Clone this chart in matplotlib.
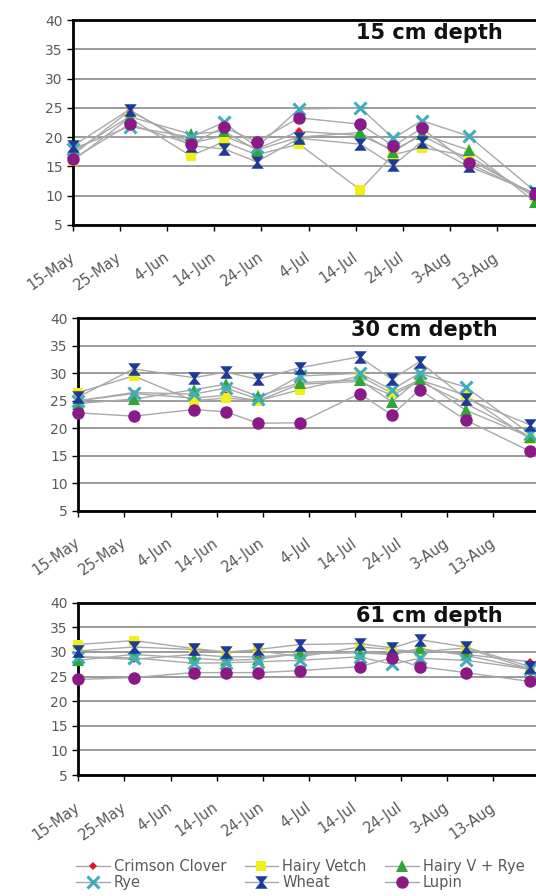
import matplotlib
matplotlib.use('Agg')
import matplotlib.pyplot as plt
from matplotlib.path import Path
from matplotlib.transforms import ScaledTranslation
import numpy as np

plt.rcParams['font.family'] = ['DejaVu Sans']

# ---------------- data ----------------
dates = np.array(['2008-05-15', '2008-05-27', '2008-06-09', '2008-06-16', '2008-06-23',
                  '2008-07-02', '2008-07-15', '2008-07-22', '2008-07-28', '2008-08-07',
                  '2008-08-21'], dtype='datetime64[D]')

tick_dates = np.array(['2008-05-15', '2008-05-25', '2008-06-04', '2008-06-14', '2008-06-24',
                       '2008-07-04', '2008-07-14', '2008-07-24', '2008-08-03', '2008-08-13'],
                      dtype='datetime64[D]')
tick_labels = ['15-May', '25-May', '4-Jun', '14-Jun', '24-Jun', '4-Jul', '14-Jul',
               '24-Jul', '3-Aug', '13-Aug']

series_names = ['Crimson Clover', 'Hairy Vetch', 'Hairy V + Rye', 'Rye', 'Wheat', 'Lupin']
panel_titles = ['15 cm depth', '30 cm depth', '61 cm depth']

# 15 cm depth
d15_crimson = [17.0, 24.5, 19.0, 20.2, 18.0, 21.0, 20.3, 17.8, 20.3, 16.2, 10.2]
d15_vetch   = [16.0, 23.3, 16.8, 19.2, 17.0, 18.8, 11.0, 17.0, 18.2, 16.8, 9.8]
d15_vrye    = [17.5, 23.5, 20.5, 21.0, 17.8, 20.0, 20.8, 17.5, 20.5, 17.8, 9.0]
d15_rye     = [18.0, 21.8, 20.0, 22.5, 18.3, 24.8, 25.0, 19.8, 22.8, 20.2, 10.8]
d15_wheat   = [18.5, 24.7, 18.5, 18.0, 15.8, 19.8, 18.8, 15.2, 19.2, 15.0, 10.5]
d15_lupin   = [16.3, 22.2, 18.8, 21.7, 19.2, 23.3, 22.2, 18.5, 21.5, 15.5, 10.3]

# 30 cm depth
d30_crimson = [25.0, 26.3, 25.5, 26.0, 25.0, 28.0, 28.5, 26.0, 28.5, 24.5, 18.5]
d30_vetch   = [26.5, 29.5, 25.0, 25.5, 25.0, 27.0, 29.5, 26.4, 28.8, 26.0, 18.0]
d30_vrye    = [24.5, 25.3, 27.0, 28.0, 25.8, 28.3, 28.8, 24.8, 29.0, 23.3, 18.4]
d30_rye     = [25.0, 26.5, 26.2, 27.3, 25.3, 29.5, 30.0, 27.0, 30.0, 27.5, 19.0]
d30_wheat   = [25.7, 30.8, 29.2, 30.2, 28.9, 31.0, 33.0, 28.9, 32.1, 25.4, 20.6]
d30_lupin   = [22.8, 22.2, 23.4, 23.0, 20.9, 21.0, 26.3, 22.4, 27.0, 21.5, 15.8]

# 61 cm depth
d61_crimson = [29.0, 28.5, 29.5, 29.0, 29.0, 29.5, 30.0, 29.5, 30.5, 29.5, 28.0]
d61_vetch   = [31.5, 32.3, 30.7, 30.0, 30.3, 29.0, 31.0, 30.5, 30.0, 30.8, 26.5]
d61_vrye    = [28.3, 29.5, 28.7, 28.3, 28.5, 29.7, 29.8, 29.5, 30.7, 29.3, 26.5]
d61_rye     = [29.0, 28.8, 27.7, 27.8, 28.0, 28.3, 29.0, 27.5, 28.7, 28.3, 26.5]
d61_wheat   = [30.2, 31.0, 30.5, 29.9, 30.5, 31.5, 31.7, 30.8, 32.5, 31.0, 27.0]
d61_lupin   = [24.4, 24.8, 25.8, 25.8, 25.8, 26.2, 27.0, 28.8, 27.0, 25.8, 24.0]

panels_data = [
    [d15_crimson, d15_vetch, d15_vrye, d15_rye, d15_wheat, d15_lupin],
    [d30_crimson, d30_vetch, d30_vrye, d30_rye, d30_wheat, d30_lupin],
    [d61_crimson, d61_vetch, d61_vrye, d61_rye, d61_wheat, d61_lupin],
]

# ---------------- styles ----------------
hourglass = Path([(-1, 1), (1, 1), (0.2, 0), (1, -1), (-1, -1), (-0.2, 0), (-1, 1)],
                 [Path.MOVETO, Path.LINETO, Path.LINETO, Path.LINETO, Path.LINETO,
                  Path.LINETO, Path.CLOSEPOLY])

styles = [
    dict(marker='D', ms=4.5, color='#e3122b', mew=0),
    dict(marker='s', ms=7.5, color='#f0f014', mew=0),
    dict(marker='^', ms=8, color='#2fa63a', mew=0),
    dict(marker='x', ms=8, color='#40adbb', mew=2.2),
    dict(marker=hourglass, ms=9, color='#1d3a98', mew=0),
    dict(marker='o', ms=9, color='#8a1a88', mew=0),
]

line_color = '#a9a9a9'
grid_color = '#808080'
label_color = '#5a5a5a'

xlim_start = np.datetime64('2008-05-15')
xlim_end = np.datetime64('2008-08-28')

W, H = 536, 896
# (left_px, top_px, bottom_px, px_per_day)
layout = [
    (73.0, 20.0, 225.0, 4.711),
    (78.3, 318.3, 510.7, 4.611),
    (78.3, 602.7, 775.0, 4.611),
]
# title right edge / vertical centre, in figure pixels
title_px = [(503, 33), (498, 330), (503, 616)]

fig = plt.figure(figsize=(W / 100, H / 100), dpi=100)
shift = ScaledTranslation(-5 / 100, 0, fig.dpi_scale_trans)

handles = []
for p, (data, (lpx, tpx, bpx, ppd)) in enumerate(zip(panels_data, layout)):
    ndays = (xlim_end - xlim_start).astype(int)
    ax = fig.add_axes([lpx / W, (H - bpx) / H, ndays * ppd / W, (bpx - tpx) / H])
    for name, vals, st in zip(series_names, data, styles):
        (ln,) = ax.plot(dates, vals, color=line_color, lw=1.0, marker=st['marker'],
                        ms=st['ms'], mfc=st['color'], mec=st['color'], mew=st['mew'],
                        label=name, zorder=3, clip_on=False)
        if p == 0:
            handles.append(ln)
    ax.set_xlim(xlim_start, xlim_end)
    ax.set_ylim(5, 40)
    ax.set_yticks(np.arange(5, 41, 5))
    ax.set_xticks(tick_dates)
    ax.set_xticklabels(tick_labels, rotation=35, ha='right', va='center',
                       rotation_mode='anchor', fontsize=10.5)
    for lab in ax.get_xticklabels():
        lab.set_transform(lab.get_transform() + shift)
    ax.yaxis.grid(True, color=grid_color, lw=1.1)
    ax.set_axisbelow(True)
    for s in ['left', 'bottom', 'top']:
        ax.spines[s].set_linewidth(2.0)
        ax.spines[s].set_color('black')
    ax.spines['right'].set_visible(False)
    ax.tick_params(axis='both', direction='out', length=4, width=1, color='black',
                   labelcolor=label_color, labelsize=10)
    ax.tick_params(axis='x', pad=18, labelsize=10.5)
    tx, ty = title_px[p]
    fig.text(tx / W, (H - ty) / H, panel_titles[p], ha='right', va='center',
             fontsize=15, fontweight='bold', color='#111111', zorder=5)

order = [0, 3, 1, 4, 2, 5]
leg = fig.legend([handles[i] for i in order], [series_names[i] for i in order],
                 loc='upper left', bbox_to_anchor=(76 / W, (H - 859) / H), ncol=3,
                 frameon=False, fontsize=10.5, handlelength=2.3, handletextpad=0.3,
                 columnspacing=1.25, labelspacing=0.05, borderaxespad=0, borderpad=0)
for t in leg.get_texts():
    t.set_color(label_color)

fig.savefig('out.png', dpi=100)
